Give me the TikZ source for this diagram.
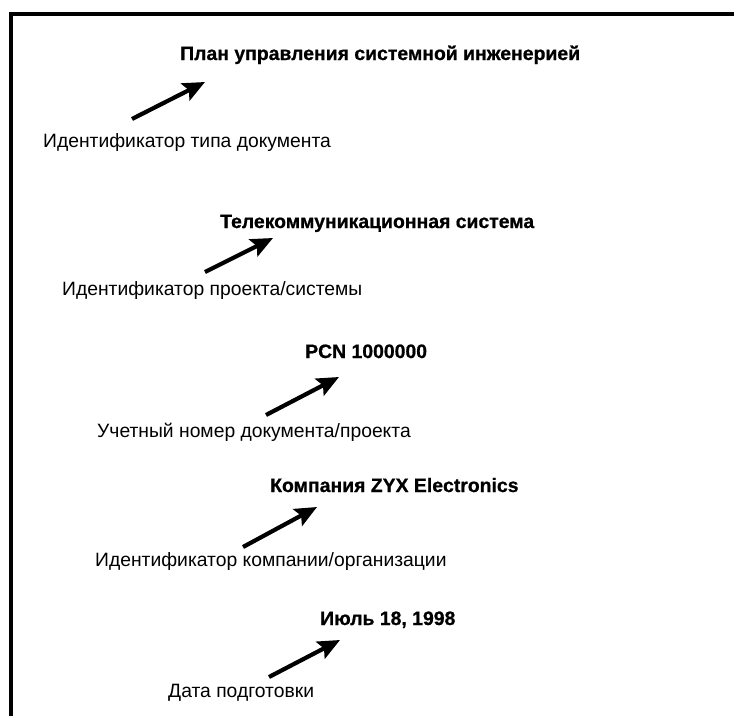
\documentclass[tikz,border=0pt]{standalone}
\usepackage{fontspec}
\setmainfont{Liberation Sans}[BoldFeatures={FakeBold=0.8}]
\usetikzlibrary{arrows.meta}

\begin{document}
\begin{tikzpicture}[
  x=1pt,y=-1pt,
  every node/.style={inner sep=0pt,anchor=base west},
  title/.style={font=\fontsize{19.4}{23}\selectfont\bfseries},
  hint/.style={font=\fontsize{19.3}{23}\selectfont},
  ptr/.style={-{Stealth[length=22pt,width=19pt,inset=4pt]},line width=4.2pt}
]
  \useasboundingbox (0,0) rectangle (734,716);
  % frame
  \draw[line width=4pt] (11.3,716) -- (11.3,14.3) -- (734,14.3);

  \node[title] (doctype) at (180,60) {План управления системной инженерией};
  \node[hint] (doctypeLbl) at (43,147) {Идентификатор типа документа};

  \node[title] (project) at (220,228) {Телекоммуникационная система};
  \node[hint] (projectLbl) at (62,295) {Идентификатор проекта/системы};

  \node[title] (pcn) at (305,358) {PCN 1000000};
  \node[hint] (pcnLbl) at (97,437) {Учетный номер документа/проекта};

  \node[title] (company) at (270,492) {Компания ZYX Electronics};
  \node[hint] (companyLbl) at (95,566) {Идентификатор компании/организации};

  \node[title] (date) at (320,625) {Июль 18, 1998};
  \node[hint] (dateLbl) at (168,697) {Дата подготовки};

  % arrow ends
  \coordinate (a1s) at (132,119);  \coordinate (a1e) at (205,82);
  \coordinate (a2s) at (205,272);  \coordinate (a2e) at (273,238);
  \coordinate (a3s) at (266,415);  \coordinate (a3e) at (339,377);
  \coordinate (a4s) at (243,547);  \coordinate (a4e) at (317,507);
  \coordinate (a5s) at (269,677);  \coordinate (a5e) at (340,640);

  \draw[ptr] (a1s) -- (a1e);
  \draw[ptr] (a2s) -- (a2e);
  \draw[ptr] (a3s) -- (a3e);
  \draw[ptr] (a4s) -- (a4e);
  \draw[ptr] (a5s) -- (a5e);
\end{tikzpicture}
\end{document}
